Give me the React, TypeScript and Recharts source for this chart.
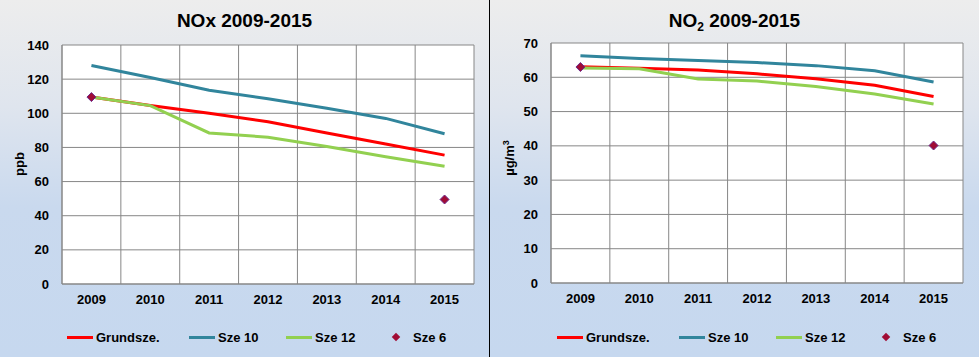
import { CartesianGrid, ComposedChart, Line, XAxis, YAxis } from "recharts"

const years = [2009, 2010, 2011, 2012, 2013, 2014, 2015]
const seriesNames = ["Grundsze.", "Sze 10", "Sze 12", "Sze 6"]

// NOx (ppb)
const noxGrund = [109.5, 104.5, 100, 95, 88.5, 82, 75.5]
const noxSze10 = [128, 121, 113.5, 108.5, 103, 97, 88]
const noxSze12 = [109.5, 104.5, 88.5, 86, 80.5, 74.5, 69]
const noxSze6 = [109.5, null, null, null, null, null, 49.5]
const noxTicks = [0, 20, 40, 60, 80, 100, 120, 140]

// NO2 (µg/m3)
const no2Grund = [63.1, 62.6, 62.1, 61, 59.6, 57.7, 54.4]
const no2Sze10 = [66.3, 65.5, 64.9, 64.3, 63.4, 61.9, 58.6]
const no2Sze12 = [62.7, 62.5, 59.5, 58.9, 57.3, 55.1, 52.2]
const no2Sze6 = [63, null, null, null, null, null, 40.1]
const no2Ticks = [0, 10, 20, 30, 40, 50, 60, 70]

const RED = "#ff0000"
const TEAL = "#31859c"
const GREEN = "#92d050"
const DIAMOND = "#a00c35"
const DIAMOND_EDGE = "#6e2a8c"
const GRID = "#878787"
const FONT = "'Liberation Sans', Arial, sans-serif"

function buildRows(g, s10, s12, s6) {
  return years.map((year, i) => ({ year, grund: g[i], sze10: s10[i], sze12: s12[i], sze6: s6[i] }))
}

function DiamondDot(props) {
  const { cx, cy, value } = props
  if (value == null || cx == null || cy == null) return <g key={props.index} />
  const r = 4.5
  return (
    <path
      key={props.index}
      d={`M${cx},${cy - r}L${cx + r},${cy}L${cx},${cy + r}L${cx - r},${cy}Z`}
      fill={DIAMOND}
      stroke={DIAMOND_EDGE}
      strokeWidth={1}
    />
  )
}

function Legend() {
  const lefts = [67, 189, 286, 383]
  const colors = [RED, TEAL, GREEN, DIAMOND]
  return (
    <>
      {seriesNames.map((name, i) => (
        <div key={name} style={{ position: "absolute", left: lefts[i], top: 329, height: 17, display: "flex", alignItems: "center" }}>
          <div style={{ width: 26, height: 17, position: "relative" }}>
            {i < 3 ? (
              <div style={{ position: "absolute", left: 0, top: 7, width: 26, height: 3, background: colors[i] }} />
            ) : (
              <div style={{ position: "absolute", left: 10, top: 5, width: 6, height: 6, background: DIAMOND, transform: "rotate(45deg)" }} />
            )}
          </div>
          <span style={{ marginLeft: i < 3 ? 3 : 4, fontFamily: FONT, fontWeight: "bold", fontSize: 13, color: "#000" }}>{name}</span>
        </div>
      ))}
    </>
  )
}

function Panel({ title, unit, rows, ticks, yWidth, top, right, unitTop }) {
  const max = ticks[ticks.length - 1]
  return (
    <div
      style={{
        position: "relative",
        width: 489,
        height: 357,
        background: "linear-gradient(to bottom, #ededed 0%, #dfe5ee 30%, #c9d9ee 58%, #c6d8ef 100%)",
      }}
    >
      <div style={{ position: "absolute", left: 0, top: 10, width: 489, textAlign: "center", fontFamily: FONT, fontWeight: "bold", fontSize: 19, lineHeight: "22px", color: "#000" }}>
        {title}
      </div>
      <div
        style={{
          position: "absolute",
          left: 19,
          top: unitTop,
          transform: "translate(-50%, -50%) rotate(-90deg)",
          fontFamily: FONT,
          fontWeight: "bold",
          fontSize: 13,
          whiteSpace: "nowrap",
          color: "#000",
        }}
      >
        {unit}
      </div>
      <div style={{ position: "absolute", left: 0, top: 0 }}>
        <ComposedChart width={489} height={357} data={rows} margin={{ top, right, bottom: 357 - 284 - 30 + (top === 43 ? 1 : 0), left: 0 }}>
          <CartesianGrid
            fill="#ffffff"
            stroke={GRID}
            strokeOpacity={1}
            verticalCoordinatesGenerator={({ offset }) =>
              Array.from({ length: years.length + 1 }, (_, i) => offset.left + (i * offset.width) / years.length)
            }
          />
          <XAxis
            dataKey="year"
            type="number"
            domain={[years[0] - 0.5, years[years.length - 1] + 0.5]}
            ticks={years}
            height={30}
            tickSize={0}
            tickLine={false}
            tickMargin={11}
            axisLine={{ stroke: GRID }}
            tick={{ fill: "#000", fontSize: 13, fontWeight: "bold", fontFamily: FONT }}
          />
          <YAxis
            domain={[0, max]}
            ticks={ticks}
            width={yWidth}
            tickSize={0}
            tickLine={false}
            tickMargin={13}
            axisLine={{ stroke: GRID }}
            tick={{ fill: "#000", fontSize: 13, fontWeight: "bold", fontFamily: FONT }}
          />
          <Line dataKey="grund" stroke={RED} strokeWidth={3} dot={false} activeDot={false} isAnimationActive={false} />
          <Line dataKey="sze10" stroke={TEAL} strokeWidth={3} dot={false} activeDot={false} isAnimationActive={false} />
          <Line dataKey="sze12" stroke={GREEN} strokeWidth={3} dot={false} activeDot={false} isAnimationActive={false} />
          <Line dataKey="sze6" stroke="none" dot={DiamondDot} activeDot={false} isAnimationActive={false} />
        </ComposedChart>
      </div>
      <Legend />
    </div>
  )
}

export default function App() {
  const noxRows = buildRows(noxGrund, noxSze10, noxSze12, noxSze6)
  const no2Rows = buildRows(no2Grund, no2Sze10, no2Sze12, no2Sze6)
  return (
    <div style={{ position: "absolute", left: 0, top: 0, width: 979, height: 357, display: "flex", overflow: "hidden" }}>
      <Panel title="NOx 2009-2015" unit="ppb" rows={noxRows} ticks={noxTicks} yWidth={62} top={45} right={15} unitTop={164} />
      <div style={{ width: 1, height: 357, background: "#000" }} />
      <Panel
        title={
          <span>
            NO<span style={{ fontSize: 12, position: "relative", top: 4 }}>2</span> 2009-2015
          </span>
        }
        unit={
          <span>
            µg/m<span style={{ fontSize: 9, position: "relative", top: -5 }}>3</span>
          </span>
        }
        rows={no2Rows}
        ticks={no2Ticks}
        yWidth={61}
        top={43}
        right={16}
        unitTop={158}
      />
    </div>
  )
}
